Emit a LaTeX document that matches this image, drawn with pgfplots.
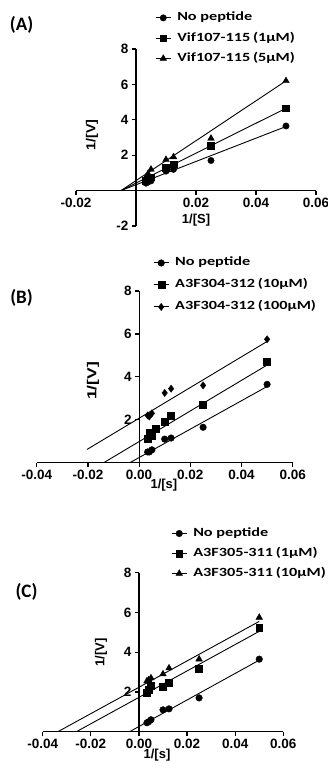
\documentclass[border=0pt]{standalone}
\usepackage{pgfplots}
\pgfplotsset{compat=1.18}
\usepackage{fontspec}
\setmainfont{Liberation Sans}
\newfontfamily\carlito{Carlito}
\newcommand\legtxt[1]{\scalebox{1.3}[1]{#1}}
\pgfplotsset{
  prism/.style={
    scale only axis, anchor=south west,
    axis lines=middle, axis line style={-, line width=1.2pt},
    enlargelimits=false, clip=false, scaled x ticks=false, scaled y ticks=false,
    hide obscured x ticks=false, hide obscured y ticks=false,
    tick align=outside, major tick length=4pt,
    every tick/.style={black, line width=1.2pt},
    tick label style={font=\bfseries\fontsize{13.5}{15}\selectfont},
    label style={font=\bfseries\fontsize{13}{15}\selectfont},
    legend style={draw=none, fill=none, font=\carlito\bfseries\fontsize{12.5}{14}\selectfont,
      anchor=north west, column sep=6pt, legend cell align=left,
      nodes={inner sep=0pt, text height=9pt, text depth=3pt}},
  },
  fitline/.style={black, line width=0.9pt, forget plot},
  pts/.style={only marks, black, mark options={fill=black, solid}},
  limg/.style={legend image code/.code={\draw[black,line width=1pt] (0pt,0pt)--(15pt,0pt); \draw[##1] plot coordinates {(7.5pt,0pt)};}},
}
\tikzset{ylab/.style={rotate=90, anchor=center, inner sep=0pt, font=\bfseries\fontsize{13}{15}\selectfont}}
\begin{document}
\begin{tikzpicture}
\useasboundingbox (0pt,0pt) rectangle (328pt,771pt);
% ---------------- (A)
\begin{axis}[prism, at={(76pt,545pt)}, width=240pt, height=177pt,
  xmin=-0.02, xmax=0.06, ymin=-2, ymax=8,
  xtick={-0.02,0.02,0.04,0.06}, xticklabels={-0.02,0.02,0.04,0.06},
  ytick={-2,2,4,6,8}, yticklabels={-2,2,4,6,8},
  xlabel={1/[S]}, xlabel style={at={(axis description cs:0.5,0.034)}, anchor=center},
  legend style={at={(axis description cs:0.317,1.222)}, row sep=8.3pt}]
\node[ylab] at (axis description cs:0.067,0.514) {\scalebox{1.1}[1]{1/[V]}};
\addplot[fitline] coordinates {(-0.005,0) (0.05,3.62)};
\addplot[fitline] coordinates {(-0.005,0) (0.05,4.65)};
\addplot[fitline] coordinates {(-0.005,0) (0.05,6.2)};
\addplot[pts, mark=*, mark size=3.2pt, limg] coordinates {(0.00333,0.42) (0.004,0.48) (0.005,0.55) (0.01,1.1) (0.0125,1.2) (0.025,1.7) (0.05,3.65)};
\addlegendentry{\legtxt{No peptide}}
\addplot[pts, mark=square*, mark size=3.3pt, limg] coordinates {(0.00333,0.55) (0.004,0.65) (0.005,0.75) (0.01,1.3) (0.0125,1.5) (0.025,2.55) (0.05,4.65)};
\addlegendentry{\legtxt{Vif107-115\,(1µM)}}
\addplot[pts, mark=triangle*, mark size=3.8pt, limg] coordinates {(0.00333,0.75) (0.004,0.95) (0.005,1.2) (0.01,1.75) (0.0125,1.9) (0.025,2.95) (0.05,6.2)};
\addlegendentry{\legtxt{Vif107-115\,(5µM)}}
\end{axis}
% ---------------- (B)
\begin{axis}[prism, at={(36.7pt,308.3pt)}, width=256pt, height=171.7pt,
  xmin=-0.04, xmax=0.06, ymin=0, ymax=8,
  xtick={-0.04,-0.02,0,0.02,0.04,0.06}, xticklabels={-0.04,-0.02,0.00,0.02,0.04,0.06},
  ytick={2,4,6,8}, yticklabels={2,4,6,8},
  xlabel={1/[s]}, xlabel style={at={(axis description cs:0.497,-0.13)}, anchor=center},
  legend style={at={(axis description cs:0.4426,1.211)}, row sep=10pt}]
\node[ylab] at (axis description cs:0.22,0.476) {\scalebox{1.35}[1]{1/[V]}};
\addplot[fitline] coordinates {(-0.0036,0) (0.05,3.55)};
\addplot[fitline] coordinates {(-0.0138,0) (0.05,4.55)};
\addplot[fitline] coordinates {(-0.0203,0.62) (0.05,5.65)};
\addplot[pts, mark=*, mark size=3.3pt, limg] coordinates {(0.00333,0.5) (0.004,0.5) (0.005,0.6) (0.01,1.1) (0.0125,1.15) (0.025,1.65) (0.05,3.65)};
\addlegendentry{\legtxt{No peptide}}
\addplot[pts, mark=square*, mark size=3.5pt, limg] coordinates {(0.00333,1.1) (0.004,1.4) (0.005,1.25) (0.00667,1.6) (0.01,1.9) (0.0125,2.2) (0.025,2.7) (0.05,4.7)};
\addlegendentry{\legtxt{A3F304-312\,(10µM)}}
\addplot[pts, mark=diamond*, mark size=3.6pt, limg] coordinates {(0.00333,2.2) (0.004,2.15) (0.005,2.3) (0.01,3.25) (0.0125,3.45) (0.025,3.6) (0.05,5.75)};
\addlegendentry{\legtxt{A3F304-312\,(100µM)}}
\end{axis}
% ---------------- (C)
\begin{axis}[prism, at={(42.7pt,39.3pt)}, width=240.6pt, height=159pt,
  xmin=-0.04, xmax=0.06, ymin=0, ymax=8,
  xtick={-0.04,-0.02,0,0.02,0.04,0.06}, xticklabels={-0.04,-0.02,0.00,0.02,0.04,0.06},
  ytick={2,4,6,8}, yticklabels={2,4,6,8},
  xlabel={1/[s]}, xlabel style={at={(axis description cs:0.475,-0.147)}, anchor=center},
  legend style={at={(axis description cs:0.521,1.298)}, row sep=8pt}]
\node[ylab] at (axis description cs:0.242,0.50) {1/[V]};
\addplot[fitline] coordinates {(-0.0039,0) (0.05,3.6)};
\addplot[fitline] coordinates {(-0.026,0) (0.05,5.05)};
\addplot[fitline] coordinates {(-0.0337,0) (0.05,5.55)};
\addplot[pts, mark=*, mark size=3.3pt, limg] coordinates {(0.00333,0.45) (0.004,0.5) (0.005,0.6) (0.01,1.1) (0.0125,1.15) (0.025,1.7) (0.05,3.65)};
\addlegendentry{\legtxt{No peptide}}
\addplot[pts, mark=square*, mark size=3.4pt, limg] coordinates {(0.00333,1.95) (0.004,2.1) (0.005,2.3) (0.01,2.25) (0.0125,2.45) (0.025,3.15) (0.05,5.25)};
\addlegendentry{\legtxt{A3F305-311\,(1µM)}}
\addplot[pts, mark=triangle*, mark size=3.8pt, limg] coordinates {(0.00333,2.55) (0.004,2.6) (0.005,2.7) (0.01,2.9) (0.0125,3.2) (0.025,3.65) (0.05,5.75)};
\addlegendentry{\legtxt{A3F305-311\,(10µM)}}
\end{axis}
% panel labels
\node[font=\carlito\bfseries\fontsize{19}{21}\selectfont] at (21.5pt,746pt) {(A)};
\node[font=\carlito\bfseries\fontsize{19}{21}\selectfont] at (21.5pt,473pt) {(B)};
\node[font=\carlito\bfseries\fontsize{19}{21}\selectfont] at (26.5pt,179.3pt) {(C)};
\end{tikzpicture}
\end{document}
